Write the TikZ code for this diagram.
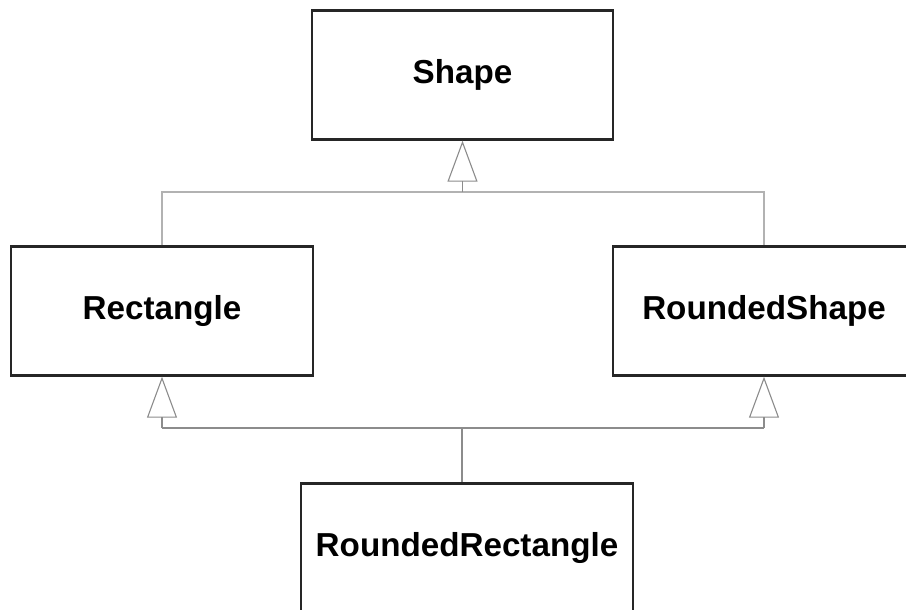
\documentclass[tikz,border=0pt]{standalone}
\usepackage{fontspec}
\setmainfont{Liberation Sans}
\usetikzlibrary{arrows.meta}
\tikzset{
  cls/.style={draw=black!85, line width=2.4pt, fill=white, minimum height=129pt, inner sep=0pt,
    font=\fontsize{33.2}{40}\selectfont\bfseries},
  conn/.style={draw=black!45, line width=1.3pt},
  inherit/.style={conn, -{Triangle[open, length=41pt, width=30pt, line width=1.1pt]}},
}
\begin{document}
\begin{tikzpicture}[x=1pt, y=-1pt]
\useasboundingbox (0,0) rectangle (906,610);
\clip (0,0) rectangle (906,610);
\fill[white] (0,0) rectangle (906,610);
\node[cls, minimum width=301pt] (shape) at (462.5,75) {Shape};
\node[cls, minimum width=302pt] (rect) at (162,311) {Rectangle};
\node[cls, minimum width=302pt] (rs) at (764,311) {RoundedShape};
\node[cls, minimum width=332pt] (rr) at (467,548) {RoundedRectangle};
\coordinate (bustop) at (462.5,192);
\coordinate (busbot) at (462,428);
% top inheritance
\draw[conn, draw=black!30, line width=1.6pt] (rect.north) -- (rect.north |- bustop) -- (rs.north |- bustop) -- (rs.north);
\draw[inherit] (bustop) -- (shape.south);
% bottom inheritance
\draw[conn] (rect.south |- busbot) -- (rs.south |- busbot);
\draw[inherit] (rect.south |- busbot) -- (rect.south);
\draw[inherit] (rs.south |- busbot) -- (rs.south);
\draw[conn] (busbot) -- (rr.north -| busbot);
\end{tikzpicture}
\end{document}
